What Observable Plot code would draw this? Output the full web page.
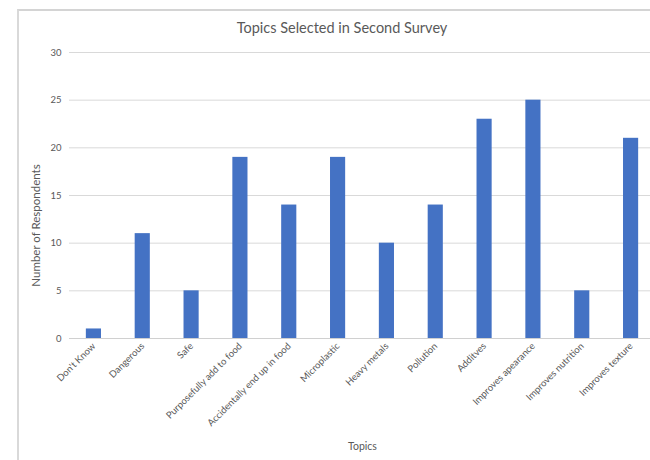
<!DOCTYPE html>
<html>
<head>
<meta charset="utf-8">
<script src="https://cdn.jsdelivr.net/npm/d3@7"></script>
<script src="https://cdn.jsdelivr.net/npm/@observablehq/plot@0.6"></script>
<style>
  html, body { margin: 0; padding: 0; background: #fff; overflow: hidden; width: 650px; height: 460px; }
  #wrap { position: relative; width: 650px; height: 460px; overflow: hidden; font-family: Lato, "Open Sans", sans-serif; }
  #frame { position: absolute; left: 17px; top: 9px; width: 700px; height: 600px; border-top: 2px solid #d4d4d4; border-left: 2px solid #d9d9d9; box-sizing: border-box; }
  #title { position: absolute; left: 34px; width: 616px; top: 19px; text-align: center; font-size: 14.5px; color: #595959; }
  #chart { position: absolute; left: 0; top: 0; width: 660px; }
  #chart svg { max-width: none !important; }
</style>
</head>
<body>
<div id="wrap">
  <div id="frame"></div>
  <div id="chart"></div>
  <div id="title">Topics Selected in Second Survey</div>
</div>
<script>
const topics = ["Don't Know", "Dangerous", "Safe", "Purposefully add to food", "Accidentally end up in food", "Microplastic", "Heavy metals", "Pollution", "Additves", "Improves apearance", "Improves nutrition", "Improves texture"];
const respondents = [1, 11, 5, 19, 14, 19, 10, 14, 23, 25, 5, 21];
const yTicks = [0, 5, 10, 15, 20, 25, 30];

const data = topics.map((t, i) => ({topic: t, value: respondents[i]}));

const chart = Plot.plot({
  width: 655,
  height: 460,
  marginLeft: 69,
  marginRight: 0,
  marginTop: 52,
  marginBottom: 122,
  style: {fontFamily: "Lato, 'Open Sans', sans-serif", fontSize: "9.5px", color: "#595959", background: "transparent", maxWidth: "none"},
  x: {domain: topics, paddingInner: 0.69, paddingOuter: 0.345, round: false, label: null},
  y: {domain: [0, 30], label: null},
  marks: [
    Plot.ruleY(yTicks.filter(d => d > 0), {stroke: "#d9d9d9", strokeWidth: 1}),
    Plot.barY(data, {x: "topic", y: "value", fill: "#4472C4"}),
    Plot.ruleY([0], {stroke: "#d0d0d0", strokeWidth: 1.2}),
    Plot.axisY({ticks: yTicks, tickSize: 0, tickPadding: 8, fill: "#595959", label: null}),
    Plot.axisX({tickSize: 0, tickPadding: 6, tickRotate: -45, fill: "#595959", label: null}),
    Plot.text(["Number of Respondents"], {frameAnchor: "left", dx: -33, dy: 30, rotate: -90, textAnchor: "middle", fill: "#595959", fontSize: 11.5}),
    Plot.text(["Topics"], {frameAnchor: "bottom", dy: 111, dx: 0, fill: "#595959", fontSize: 10.5})
  ]
});
document.getElementById("chart").appendChild(chart);
</script>
</body>
</html>
